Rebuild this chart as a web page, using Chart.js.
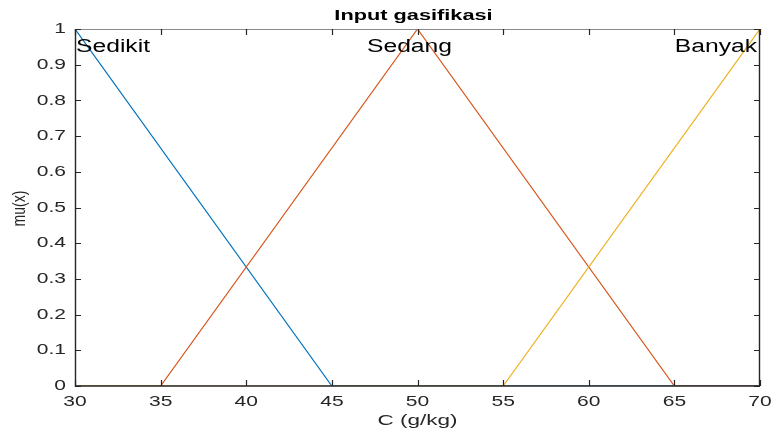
<!DOCTYPE html>
<html>
<head>
<meta charset="utf-8">
<script src="https://cdn.jsdelivr.net/npm/chart.js@4.4.0/dist/chart.umd.min.js"></script>
<style>
  html, body { margin: 0; padding: 0; background: #fff; }
  #wrap { width: 771px; height: 430px; position: relative; }
</style>
</head>
<body>
<div id="wrap"><canvas id="c"></canvas></div>
<script>
// Membership functions
const sedikitX = [30, 45, 70];
const sedikitY = [1, 0, 0];
const sedangX = [30, 35, 50, 65, 70];
const sedangY = [0, 0, 1, 0, 0];
const banyakX = [30, 55, 70];
const banyakY = [0, 0, 1];

const setNames = ['Sedikit', 'Sedang', 'Banyak'];
const setLabelX = [30, 50, 70];
const setLabelY = 0.95;

const xTicks = [30, 35, 40, 45, 50, 55, 60, 65, 70];
const yTicks = [0, 0.1, 0.2, 0.3, 0.4, 0.5, 0.6, 0.7, 0.8, 0.9, 1];

const TITLE = 'Input gasifikasi';
const X_TITLE = 'C (g/kg)';
const Y_TITLE = 'mu(x)';

const BLUE = '#0072BD';
const ORANGE = '#D95319';
const YELLOW = '#EDB120';
const INK = '#262626';
const FONT = '"Liberation Sans", Arial, sans-serif';
const STRETCH = 1.4; // the figure's text is drawn wide

const pts = (xs, ys) => xs.map((x, i) => ({ x, y: ys[i] }));

function wideText(ctx, text, x, y, align, sx) {
  ctx.save();
  ctx.translate(x, y);
  ctx.scale(sx, 1);
  ctx.textAlign = align;
  ctx.fillText(text, 0, 0);
  ctx.restore();
}

// box, inward ticks on all four sides, and all text
const matlabAxes = {
  id: 'matlabAxes',
  afterDraw(chart) {
    const { ctx, chartArea: a, scales } = chart;
    const xs = scales.x, ys = scales.y;
    ctx.save();
    ctx.lineWidth = 1;
    ctx.strokeStyle = '#8a8a8a';
    ctx.beginPath();
    ctx.moveTo(a.left, a.top + 0.5);
    ctx.lineTo(a.right, a.top + 0.5);
    ctx.stroke();
    ctx.strokeStyle = INK;
    ctx.lineWidth = 1.4;
    ctx.beginPath();
    ctx.moveTo(a.left + 0.5, a.top);
    ctx.lineTo(a.left + 0.5, a.bottom);
    ctx.lineTo(a.right, a.bottom);
    ctx.moveTo(a.right - 0.5, a.top);
    ctx.lineTo(a.right - 0.5, a.bottom);
    ctx.stroke();

    const tl = 6;
    ctx.lineWidth = 1.2;
    ctx.beginPath();
    for (const v of xTicks) {
      const px = Math.round(xs.getPixelForValue(v)) + 0.5;
      ctx.moveTo(px, a.bottom); ctx.lineTo(px, a.bottom - tl);
      ctx.moveTo(px, a.top); ctx.lineTo(px, a.top + tl);
    }
    for (const v of yTicks) {
      const py = Math.round(ys.getPixelForValue(v)) + 0.5;
      ctx.moveTo(a.left, py); ctx.lineTo(a.left + tl, py);
      ctx.moveTo(a.right, py); ctx.lineTo(a.right - tl, py);
    }
    ctx.stroke();

    // tick labels
    ctx.fillStyle = INK;
    ctx.font = '15px ' + FONT;
    ctx.textBaseline = 'middle';
    for (const v of xTicks) {
      wideText(ctx, String(v), xs.getPixelForValue(v), 402, 'center', STRETCH);
    }
    for (const v of yTicks) {
      wideText(ctx, String(v), a.left - 9, ys.getPixelForValue(v), 'right', STRETCH);
    }

    // set names
    ctx.fillStyle = '#000';
    ctx.font = '18px ' + FONT;
    const aligns = ['left', 'center', 'right'];
    const nudge = [1, -8, -3];
    setNames.forEach((n, i) => {
      wideText(ctx, n, xs.getPixelForValue(setLabelX[i]) + nudge[i],
        ys.getPixelForValue(setLabelY), aligns[i], 1.37);
    });

    // title
    ctx.font = 'bold 15px ' + FONT;
    wideText(ctx, TITLE, (a.left + a.right) / 2 - 4, 16, 'center', 1.45);

    // axis titles
    ctx.fillStyle = INK;
    ctx.font = '15px ' + FONT;
    wideText(ctx, X_TITLE, (a.left + a.right) / 2, 421, 'center', 1.5);
    ctx.translate(20, (a.top + a.bottom) / 2 + 1);
    ctx.rotate(-Math.PI / 2);
    ctx.font = '14px ' + FONT;
    ctx.textAlign = 'center';
    ctx.save();
    ctx.scale(1, 1.25);
    ctx.fillText(Y_TITLE, 0, 0);
    ctx.restore();
    ctx.restore();
  },
};

new Chart(document.getElementById('c'), {
  type: 'scatter',
  data: {
    datasets: [
      { label: 'Banyak', data: pts(banyakX, banyakY), borderColor: YELLOW, order: 0 },
      { label: 'Sedang', data: pts(sedangX, sedangY), borderColor: ORANGE, order: 1 },
      { label: 'Sedikit', data: pts(sedikitX, sedikitY), borderColor: BLUE, order: 2 },
    ].map((d) => ({
      ...d,
      showLine: true,
      borderWidth: 1.2,
      pointRadius: 0,
      pointHoverRadius: 0,
      fill: false,
      tension: 0,
    })),
  },
  options: {
    responsive: true,
    maintainAspectRatio: false,
    animation: false,
    events: [],
    layout: { padding: { left: 0, right: 11, top: 29, bottom: 0 } },
    plugins: {
      legend: { display: false },
      tooltip: { enabled: false },
      title: { display: false },
    },
    scales: {
      x: {
        type: 'linear',
        min: 30,
        max: 70,
        afterBuildTicks: (s) => { s.ticks = xTicks.map((v) => ({ value: v })); },
        ticks: { display: false },
        grid: { display: false, drawTicks: false },
        border: { display: false },
        afterFit: (s) => { s.height = 44; },
      },
      y: {
        min: 0,
        max: 1,
        afterBuildTicks: (s) => { s.ticks = yTicks.map((v) => ({ value: v })); },
        ticks: { display: false },
        grid: { display: false, drawTicks: false },
        border: { display: false },
        afterFit: (s) => { s.width = 75; },
      },
    },
  },
  plugins: [matlabAxes],
});
</script>
</body>
</html>
